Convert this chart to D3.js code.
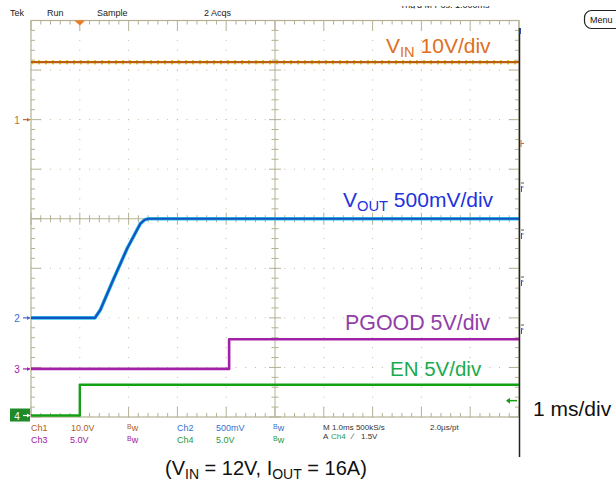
<!DOCTYPE html>
<html><head><meta charset="utf-8">
<script src="https://cdn.jsdelivr.net/npm/d3@7"></script>
<style>body{margin:0;background:#fff}svg{display:block}text{font-family:"Liberation Sans",Arial,sans-serif}</style>
</head><body>
<script>
// ---- data ----
const channels = ["Ch1", "Ch2", "Ch3", "Ch4"];
const chOffsetDiv = [2, -2, -3.03, -3.97];      // marker position (divisions from centre)
const chVoltsPerDiv = [10, 0.5, 5, 5];
const vinT = [0, 10];            const vinV = [11.6, 11.6];
const voutT = [0, 1.31, 1.42, 1.49, 1.69, 1.97, 2.24, 2.33, 2.41, 10];
const voutV = [0, 0, 0.08, 0.16, 0.39, 0.70, 0.95, 0.99, 1.0, 1.0];
const pgoodT = [0, 4.06, 4.06, 10]; const pgoodV = [0, 0, 3.0, 3.0];
const enT = [0, 1.0, 1.0, 10];    const enV = [0, 0, 3.1, 3.1];
const timeDomain = [0, 10];      // ms, 1 ms/div
const divDomain = [-4, 4];
const triggerTime = 1.0, triggerLevel = 1.5; // Ch4
const row1 = ["Ch1", "10.0V", "Ch2", "500mV", "M 1.0ms 500kS/s", "2.0\u00b5s/pt"];
const row2 = ["Ch3", "5.0V", "Ch4", "5.0V", "A", "Ch4", "\u2044", "1.5V"];

// ---- drawing ----
const W = 616, H = 483;
const svg = d3.select("body").append("svg").attr("width", W).attr("height", H);
const x = d3.scaleLinear().domain(timeDomain).range([31, 519]);
const yd = d3.scaleLinear().domain(divDomain).range([417, 20.5]);
const grid = "#b5b194", dot = "#bfbb9f";
const g = svg.append("g");

// dotted grid
const minorX = d3.range(0, 50.001, 1).map(i => i * 0.2);
const minorY = d3.range(-20, 20.001, 1).map(i => i * 0.2);
[1,2,3,4,6,7,8,9].forEach(t => minorY.forEach(v => g.append("rect")
  .attr("x", x(t) - 0.5).attr("y", yd(v) - 0.5).attr("width", 1).attr("height", 1).attr("fill", dot)));
[-3,-2,-1,1,2,3].forEach(v => minorX.forEach(t => g.append("rect")
  .attr("x", x(t) - 0.5).attr("y", yd(v) - 0.5).attr("width", 1).attr("height", 1).attr("fill", dot)));

// centre lines
g.append("line").attr("x1", x(0)).attr("x2", x(10)).attr("y1", yd(0)).attr("y2", yd(0)).attr("stroke", grid);
g.append("line").attr("x1", x(5)).attr("x2", x(5)).attr("y1", yd(-4)).attr("y2", yd(4)).attr("stroke", grid);
minorX.forEach((t, i) => { const L = i % 5 === 0 ? 6 : 3.5;
  g.append("line").attr("x1", x(t)).attr("x2", x(t)).attr("y1", yd(0) - L).attr("y2", yd(0) + L).attr("stroke", grid);
  const Lb = i % 5 === 0 ? 10 : 4;
  g.append("line").attr("x1", x(t)).attr("x2", x(t)).attr("y1", yd(4)).attr("y2", yd(4) + Lb).attr("stroke", grid);
  g.append("line").attr("x1", x(t)).attr("x2", x(t)).attr("y1", yd(-4)).attr("y2", yd(-4) - Lb).attr("stroke", grid);
});
minorY.forEach((v, i) => { const L = i % 5 === 0 ? 6 : 3.5;
  g.append("line").attr("y1", yd(v)).attr("y2", yd(v)).attr("x1", x(5) - L).attr("x2", x(5) + L).attr("stroke", grid);
  const Lb = i % 5 === 0 ? 10 : 4;
  g.append("line").attr("y1", yd(v)).attr("y2", yd(v)).attr("x1", x(0)).attr("x2", x(0) + Lb).attr("stroke", grid);
  g.append("line").attr("y1", yd(v)).attr("y2", yd(v)).attr("x1", x(10)).attr("x2", x(10) - Lb).attr("stroke", grid);
});
g.append("rect").attr("x", x(0)).attr("y", yd(4)).attr("width", x(10) - x(0)).attr("height", yd(-4) - yd(4))
  .attr("fill", "none").attr("stroke", grid).attr("stroke-width", 1.2);

// traces
const lineFor = ci => d3.line().x(d => x(d[0])).y(d => yd(chOffsetDiv[ci] + d[1] / chVoltsPerDiv[ci]));
const zip = (a, b) => a.map((v, i) => [v, b[i]]);
const tr = svg.append("g").attr("fill", "none").attr("stroke-linejoin", "round");
tr.append("path").attr("d", lineFor(0)(zip(vinT, vinV))).attr("stroke", "#e8cf3a").attr("stroke-width", 4.5).attr("stroke-dasharray", "2 5");
tr.append("path").attr("d", lineFor(0)(zip(vinT, vinV))).attr("stroke", "#b8600e").attr("stroke-width", 2.4);
tr.append("path").attr("d", lineFor(1)(zip(voutT, voutV))).attr("stroke", "#2fc4e6").attr("stroke-width", 3.6);
tr.append("path").attr("d", lineFor(1)(zip(voutT, voutV))).attr("stroke", "#1552c2").attr("stroke-width", 2.2);
tr.append("path").attr("d", lineFor(2)(zip(pgoodT, pgoodV))).attr("stroke", "#a321a8").attr("stroke-width", 2.6);
tr.append("path").attr("d", lineFor(3)(zip(enT, enV))).attr("stroke", "#14a014").attr("stroke-width", 2.4);

// left channel markers
const mcol = ["#c0702e", "#3a6ad0", "#a321a8", "#1a8a2a"];
channels.forEach((c, i) => {
  const yy = yd(chOffsetDiv[i]);
  if (i === 3) {
    svg.append("rect").attr("x", 10).attr("y", yy - 7).attr("width", 20).attr("height", 13).attr("fill", "#1e8a2a");
  }
  const col = i === 3 ? "#fff" : mcol[i];
  svg.append("text").attr("x", 17).attr("y", yy + 4).attr("font-size", 10).attr("fill", col).attr("text-anchor", "middle").text(i + 1);
  svg.append("line").attr("x1", 23).attr("x2", 30).attr("y1", yy).attr("y2", yy).attr("stroke", col).attr("stroke-width", 1.2);
  svg.append("path").attr("d", `M30,${yy} l-3,-2 v4 z`).attr("fill", col);
});

// trigger markers
const tx = x(triggerTime);
svg.append("path").attr("d", `M${tx - 5.5},${yd(4)} h11 l-5.5,5 z`).attr("fill", "#f07a22");
const ty = yd(chOffsetDiv[3] + triggerLevel / chVoltsPerDiv[3]);
svg.append("line").attr("x1", 507).attr("x2", 517).attr("y1", ty).attr("y2", ty).attr("stroke", "#14a014").attr("stroke-width", 1.5);
svg.append("path").attr("d", `M506,${ty} l4,-3 v6 z`).attr("fill", "#14a014");

// right frame line and small artifacts
svg.append("line").attr("x1", 519.5).attr("x2", 519.5).attr("y1", 28).attr("y2", 457).attr("stroke", "#222").attr("stroke-width", 1.5);
svg.append("rect").attr("x", 519.5).attr("y", 28).attr("width", 1.5).attr("height", 6).attr("fill", "#2a50a0");
svg.append("path").attr("d", "M521,140 v7 M521,143.5 h3").attr("stroke", "#c0702e").attr("fill", "none");
[188, 235, 282, 330].forEach(yy => {
  svg.append("line").attr("x1", 521).attr("x2", 524).attr("y1", yy - 5).attr("y2", yy - 5).attr("stroke", "#555");
  svg.append("path").attr("d", `M521.5,${yy - 2} v6 M521.5,${yy - 1} h2`).attr("stroke", "#2a5cd0").attr("fill", "none");
});

// status line
const st = svg.append("g").attr("font-size", 9).attr("fill", "#222");
[["Tek", 10], ["Run", 47], ["Sample", 97], ["2 Acqs", 204]].forEach(([t, xx]) => st.append("text").attr("x", xx).attr("y", 16).text(t));
svg.append("defs").append("clipPath").attr("id", "topclip").append("rect").attr("x", 390).attr("y", 6).attr("width", 100).attr("height", 2.5);
svg.append("text").attr("clip-path", "url(#topclip)").attr("x", 400).attr("y", 8).attr("font-size", 9).attr("fill", "#222")
  .text("Trig'd  M Pos: 1.000ms");
svg.append("rect").attr("x", 584.5).attr("y", 10.5).attr("width", 45).attr("height", 18).attr("rx", 7)
  .attr("fill", "#fff").attr("stroke", "#222").attr("stroke-width", 1.2);
svg.append("text").attr("x", 590).attr("y", 23).attr("font-size", 9).attr("fill", "#111").text("Menu");

// bottom info rows
const bw = (xx, yy, col) => { const t = svg.append("text").attr("x", xx).attr("y", yy).attr("font-size", 9).attr("fill", col);
  t.append("tspan").attr("font-size", 7).attr("dy", -2).text("B"); t.append("tspan").attr("dy", 2).text("w"); };
const info = (t, xx, yy, col, fs) => svg.append("text").attr("x", xx).attr("y", yy).attr("font-size", fs || 9).attr("fill", col).text(t);
info(row1[0], 31, 431, "#b06020"); info(row1[1], 71, 431, "#b06020"); bw(127, 431, "#b06020");
info(row1[2], 177, 431, "#3a70d0"); info(row1[3], 216, 431, "#3a70d0"); bw(273, 431, "#3a70d0");
info(row1[4], 323, 430, "#333", 8); info(row1[5], 430, 430, "#333", 8);
info(row2[0], 31, 443, "#a020a0"); info(row2[1], 70, 443, "#a020a0"); bw(127, 443, "#a020a0");
info(row2[2], 177, 443, "#2a9a40"); info(row2[3], 216, 443, "#2a9a40"); bw(273, 443, "#2a9a40");
info(row2[4], 323, 439, "#333", 8); info(row2[5], 331, 439, "#2a9a40", 8); info("\u2215", 352, 439, "#333", 8); info(row2[7], 361, 439, "#333", 8);

// channel labels
const label = (xx, yy, col, main, sub, rest, fs) => {
  const t = svg.append("text").attr("x", xx).attr("y", yy).attr("font-size", fs).attr("fill", col);
  t.append("tspan").text(main);
  if (sub) t.append("tspan").attr("font-size", fs * 0.7).attr("dy", 4).text(sub);
  t.append("tspan").attr("dy", sub ? -4 : 0).text(rest);
};
label(386, 53, "#e0701c", "V", "IN", " 10V/div", 21);
label(343, 207, "#2233dd", "V", "OUT", " 500mV/div", 21);
label(345, 330, "#9040a8", "PGOOD 5V/div", null, "", 21.4);
label(390, 376, "#1aaa50", "EN 5V/div", null, "", 20.5);
svg.append("text").attr("x", 533).attr("y", 416).attr("font-size", 21).attr("fill", "#111").text("1 ms/div");
const cap = svg.append("text").attr("x", 165).attr("y", 475).attr("font-size", 20).attr("fill", "#111");
cap.append("tspan").text("(V");
cap.append("tspan").attr("font-size", 14).attr("dy", 4).text("IN");
cap.append("tspan").attr("dy", -4).text(" = 12V, I");
cap.append("tspan").attr("font-size", 14).attr("dy", 4).text("OUT");
cap.append("tspan").attr("dy", -4).text(" = 16A)");
</script>
</body></html>
